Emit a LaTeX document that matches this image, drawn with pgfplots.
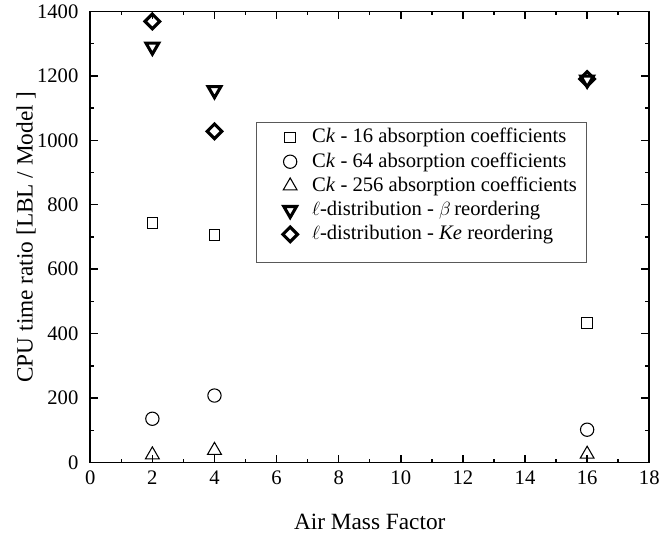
\documentclass[border=0pt]{standalone}
\usepackage{pgfplots}
\pgfplotsset{compat=1.18}
\usepackage{fontspec}
\setmainfont{Liberation Serif}
\newcommand{\legtxt}[1]{\hspace*{11pt}#1\hspace*{-9.5pt}}
\begin{document}
\begin{tikzpicture}
\begin{axis}[
  scale only axis,
  width=420pt, height=339pt,
  xmin=0, xmax=18, ymin=0, ymax=1400,
  xtick={0,2,...,18}, ytick={0,200,...,1400},
  minor x tick num=1, minor y tick num=1,
  tick align=inside,
  major tick length=6pt, minor tick length=3pt,
  tick style={black, line width=1.1pt},
  axis line style={line width=1.3pt},
  ticklabel style={font=\fontsize{15.5}{17}\selectfont},
  xticklabel style={yshift=-3pt},
  yticklabel style={xshift=-5.4pt},
  /pgf/number format/assume math mode=true,
  /pgf/number format/set thousands separator={},
  xlabel={Air Mass Factor}, ylabel={CPU time ratio [LBL / Model ]},
  label style={font=\fontsize{17.5}{20}\selectfont},
  xlabel style={yshift=-15pt},
  ylabel style={yshift=-5.8pt},
  legend style={at={(0.296,0.754)}, anchor=north west, draw=gray!70!black, line width=0.7pt,
    font=\fontsize{15.5}{18}\selectfont, row sep=2.2pt, inner xsep=17pt, inner ysep=3pt,
    nodes={inner xsep=0pt, inner ysep=0pt, text height=12pt, text depth=4pt}},
  legend cell align=left,
]
\addplot[only marks, mark=square, mark size=4pt, mark options={line width=0.8pt, fill=white}] coordinates {(2,743) (4,706) (16,434)};
\addlegendentry{\legtxt{C\textit{k} - 16 absorption coefficients}}
\addplot[only marks, mark=o, mark size=5pt, mark options={line width=0.8pt, fill=white}] coordinates {(2,136) (4,208) (16,102)};
\addlegendentry{\legtxt{C\textit{k} - 64 absorption coefficients}}
\addplot[only marks, mark=triangle, mark size=6pt, mark options={line width=0.8pt, fill=white}] coordinates {(2,24) (4,38) (16,26)};
\addlegendentry{\legtxt{C\textit{k} - 256 absorption coefficients}}
\addplot[only marks, mark=triangle, mark size=5.5pt, mark options={line width=2.3pt, fill=white, rotate=180}] coordinates {(2,1290) (4,1155) (16,1188)};
\addlegendentry{\legtxt{$\ell$-distribution - $\beta$\,reordering}}
\addplot[only marks, mark=square, mark size=3.9pt, mark options={line width=2.3pt, fill=white, rotate=45}] coordinates {(2,1369) (4,1028) (16,1190)};
\addlegendentry{\legtxt{$\ell$-distribution - \textit{Ke} reordering}}
\addlegendimage{empty legend}
\addlegendentry[text height=8pt, text depth=0pt]{}
\end{axis}
\path ([xshift=-9pt]current bounding box.west);
\path ([yshift=-2pt]current bounding box.south);
\end{tikzpicture}
\end{document}
